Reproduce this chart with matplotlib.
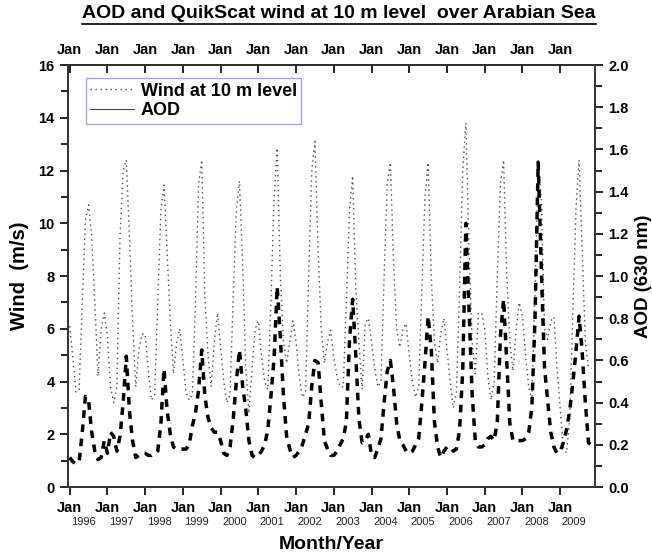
import matplotlib
matplotlib.use("Agg")
import matplotlib.pyplot as plt
import numpy as np
from matplotlib.lines import Line2D
from matplotlib.ticker import MultipleLocator, FormatStrFormatter

plt.rcParams["font.family"] = ["Liberation Sans", "DejaVu Sans"]

# monthly series, Jan 1996 onward (one row per year, Jan..Dec)
start_year = 1996
wind_ms = [
    6.1, 4.9, 3.6, 3.7, 7.0, 10.1, 10.7, 9.5, 7.0, 4.2, 6.0, 6.6,    # 1996
    5.7, 3.8, 3.2, 3.8, 9.5, 12.0, 12.4, 9.5, 6.3, 3.8, 5.2, 5.8,    # 1997
    5.8, 4.4, 3.3, 3.5, 7.0, 10.5, 11.45, 8.9, 6.3, 4.3, 5.45, 6.0,  # 1998
    4.8, 3.6, 3.3, 3.5, 7.0, 11.5, 12.4, 7.2, 5.0, 3.8, 5.5, 6.6,    # 1999
    5.3, 4.0, 3.2, 3.5, 7.2, 10.5, 11.6, 8.5, 4.5, 2.8, 4.5, 6.0,    # 2000
    6.3, 5.0, 4.0, 3.7, 7.0, 11.0, 12.85, 8.0, 5.5, 4.7, 5.5, 6.3,   # 2001
    5.5, 4.2, 3.4, 3.6, 8.0, 12.0, 13.1, 9.0, 6.0, 4.7, 5.5, 5.95,   # 2002
    4.9, 4.2, 3.8, 3.8, 7.0, 10.5, 11.8, 7.5, 5.5, 3.7, 6.2, 6.4,    # 2003
    5.5, 4.5, 3.8, 4.0, 8.0, 11.5, 12.3, 8.5, 5.95, 5.3, 6.0, 6.2,   # 2004
    5.0, 4.0, 3.4, 3.8, 7.5, 11.0, 12.3, 8.0, 5.5, 4.7, 5.8, 6.4,    # 2005
    5.2, 4.0, 3.0, 3.6, 7.5, 12.0, 13.8, 9.0, 5.5, 4.3, 6.6, 6.6,    # 2006
    6.0, 4.2, 3.3, 4.0, 8.0, 11.5, 12.4, 8.0, 5.5, 4.4, 6.0, 7.0,    # 2007
    6.45, 5.0, 3.8, 3.3, 7.5, 12.1, 11.0, 6.0, 5.6, 6.3, 6.45, 4.5,  # 2008
    3.0, 1.5, 1.3, 2.5, 6.5, 10.5, 12.4, 9.0, 5.5, 4.55, 4.5,        # 2009
]
aod = [
    0.14, 0.12, 0.11, 0.12, 0.26, 0.43, 0.41, 0.26, 0.17, 0.13, 0.14, 0.22,  # 1996
    0.16, 0.26, 0.24, 0.17, 0.24, 0.40, 0.62, 0.36, 0.22, 0.14, 0.15, 0.16,  # 1997
    0.16, 0.15, 0.15, 0.16, 0.17, 0.30, 0.56, 0.36, 0.25, 0.19, 0.18, 0.18,  # 1998
    0.18, 0.18, 0.20, 0.29, 0.35, 0.46, 0.65, 0.43, 0.33, 0.28, 0.26, 0.26,  # 1999
    0.22, 0.16, 0.15, 0.19, 0.32, 0.50, 0.65, 0.48, 0.37, 0.22, 0.15, 0.14,  # 2000
    0.15, 0.17, 0.20, 0.27, 0.43, 0.61, 0.95, 0.71, 0.43, 0.24, 0.18, 0.14,  # 2001
    0.15, 0.17, 0.20, 0.25, 0.30, 0.48, 0.60, 0.59, 0.40, 0.22, 0.18, 0.15,  # 2002
    0.15, 0.17, 0.20, 0.23, 0.31, 0.70, 0.89, 0.62, 0.32, 0.21, 0.22, 0.25,  # 2003
    0.15, 0.14, 0.18, 0.23, 0.40, 0.55, 0.60, 0.47, 0.30, 0.22, 0.20, 0.17,  # 2004
    0.16, 0.17, 0.20, 0.23, 0.40, 0.59, 0.81, 0.65, 0.31, 0.19, 0.14, 0.17,  # 2005
    0.19, 0.19, 0.17, 0.18, 0.27, 0.55, 1.25, 0.85, 0.44, 0.22, 0.19, 0.19,  # 2006
    0.20, 0.23, 0.24, 0.22, 0.31, 0.72, 0.89, 0.60, 0.30, 0.22, 0.22, 0.22,  # 2007
    0.22, 0.23, 0.26, 0.38, 0.80, 1.54, 1.04, 0.57, 0.41, 0.26, 0.19, 0.16,  # 2008
    0.17, 0.21, 0.27, 0.36, 0.49, 0.64, 0.81, 0.64, 0.40, 0.21, 0.20,        # 2009
]
years = list(range(1996, 2010))

t_wind = start_year + np.arange(len(wind_ms)) / 12.0
t_aod = start_year + np.arange(len(aod)) / 12.0

fig = plt.figure(figsize=(6.52, 5.56), dpi=100)
ax = fig.add_axes([0.104, 0.124, 0.809, 0.759])
ax2 = ax.twinx()

ax.plot(t_wind, wind_ms, color="#4a4a4a", linewidth=1.0,
        linestyle=(0, (1, 2.6)))
ax2.plot(t_aod, aod, color="black", linewidth=2.5,
         linestyle=(0, (2.2, 1.9)), dash_capstyle="butt")

# --- left axis ---
ax.set_xlim(1995.95, 2009.93)
ax.set_ylim(0, 16)
ax.yaxis.set_major_locator(MultipleLocator(2))
ax.yaxis.set_minor_locator(MultipleLocator(1))
ax.set_xticks(years)
ax.set_xticklabels(["Jan"] * len(years))
ax.tick_params(axis="both", which="both", direction="out", width=1.2,
               labelsize=10.5)
ax.tick_params(axis="y", which="major", length=6)
ax.tick_params(axis="y", which="minor", length=5)
ax.tick_params(axis="x", length=6, pad=4)
for lab in ax.get_xticklabels() + ax.get_yticklabels():
    lab.set_fontweight("bold")

# --- right axis ---
ax2.set_ylim(0, 2.0)
ax2.yaxis.set_major_locator(MultipleLocator(0.2))
ax2.yaxis.set_minor_locator(MultipleLocator(0.1))
ax2.yaxis.set_major_formatter(FormatStrFormatter("%.1f"))
ax2.tick_params(axis="y", which="both", direction="out", width=1.2,
                labelsize=10.5)
ax2.tick_params(axis="y", which="major", length=6)
ax2.tick_params(axis="y", which="minor", length=5)
for lab in ax2.get_yticklabels():
    lab.set_fontweight("bold")

# --- top axis: Jan ticks hanging inward ---
top = ax.secondary_xaxis("top")
top.set_xticks(years)
top.set_xticklabels(["Jan"] * len(years))
top.tick_params(direction="in", length=6, width=1.2, labelsize=10.5, pad=6)
for lab in top.get_xticklabels():
    lab.set_fontweight("bold")

for a in (ax, ax2):
    for sp in a.spines.values():
        sp.set_linewidth(1.3)
        sp.set_color("#333333")
top.spines["top"].set_linewidth(1.3)

# year numbers below the Jan labels
for yr in years:
    ax.text(yr + 0.37, -0.083, str(yr), transform=ax.get_xaxis_transform(),
            ha="center", va="center", fontsize=8, color="#222222")

ax.set_ylabel("Wind  (m/s)", fontsize=14.5, fontweight="bold", labelpad=7)
ax2.set_ylabel("AOD (630 nm)", fontsize=13.5, fontweight="bold", labelpad=4)
ax.set_xlabel("Month/Year", fontsize=14, fontweight="bold", labelpad=15)

handles = [
    Line2D([], [], color="#4a4a4a", linewidth=1.0, linestyle=(0, (1, 2.6))),
    Line2D([], [], color="#444444", linewidth=0.8),
]
leg = ax.legend(handles, ["Wind at 10 m level", "AOD"],
                loc="upper left", bbox_to_anchor=(0.034, 0.969),
                borderaxespad=0, fancybox=False, handlelength=2.4,
                handletextpad=0.4, borderpad=0.25, labelspacing=0.15,
                prop={"weight": "bold", "size": 13})
leg.get_frame().set_edgecolor("#8c8cf0")
leg.get_frame().set_linewidth(1.0)

title = fig.text(0.52, 0.976, "AOD and QuikScat wind at 10 m level  over Arabian Sea",
                 ha="center", va="center", fontsize=14, fontweight="bold")
fig.canvas.draw()
bb = title.get_window_extent().transformed(fig.transFigure.inverted())
fig.add_artist(Line2D([bb.x0, bb.x1], [bb.y0 - 0.003, bb.y0 - 0.003],
                      transform=fig.transFigure, color="black", linewidth=1.2))

fig.savefig("out.png", dpi=100)
